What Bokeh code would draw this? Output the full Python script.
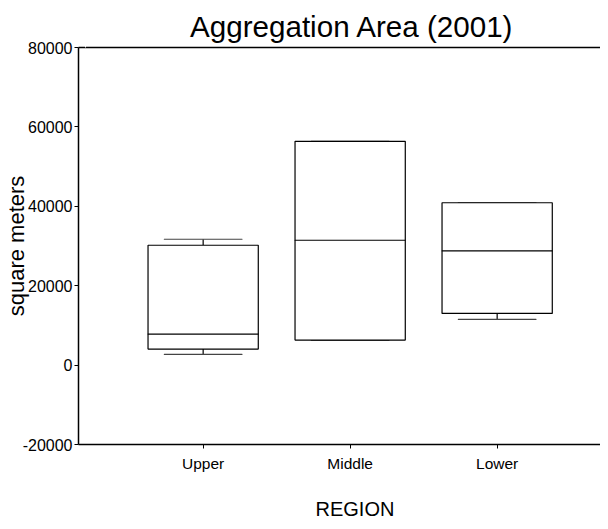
from bokeh.plotting import figure
from bokeh.models import (Range1d, FixedTicker, LinearAxis, Title, ColumnDataSource,
                          NumeralTickFormatter)
from bokeh.embed import file_html
from bokeh.resources import INLINE

# ---- data ----
regions = ["Upper", "Middle", "Lower"]
whisker_low = [2680, 6310, 11510]
q1 = [4040, 6310, 13020]
median = [7820, 31450, 28770]
q3 = [30190, 56360, 40890]
whisker_high = [31700, 56360, 40890]
y_ticks = [-20000, 0, 20000, 40000, 60000, 80000]

positions = list(range(1, len(regions) + 1))
box_width = 0.75
cap_width = 0.53

FONT = "Liberation Sans"

p = figure(width=600, height=521, output_backend="svg", toolbar_location=None,
           x_range=Range1d(0.152, 3.703), y_range=Range1d(-20000, 80000),
           min_border_left=78, min_border_top=47, min_border_bottom=77, min_border_right=0)
p.outline_line_color = None
p.xgrid.visible = False
p.ygrid.visible = False

src = ColumnDataSource(dict(x=positions, wl=whisker_low, q1=q1, med=median, q3=q3,
                            wh=whisker_high, label=regions))

lc = "black"
lw = 1.2
# whiskers
p.segment(x0="x", y0="q3", x1="x", y1="wh", source=src, line_color=lc, line_width=lw)
p.segment(x0="x", y0="wl", x1="x", y1="q1", source=src, line_color=lc, line_width=lw)
p.rect(x="x", y="wh", width=cap_width, height=0.01, source=src, line_color="#444444",
       line_width=lw, fill_color=None)
p.rect(x="x", y="wl", width=cap_width, height=0.01, source=src, line_color="#444444",
       line_width=lw, fill_color=None)
# boxes
p.vbar(x="x", width=box_width, bottom="q1", top="q3", source=src, fill_color="white",
       line_color=lc, line_width=lw)
# medians
p.rect(x="x", y="med", width=box_width, height=0.01, source=src, line_color=lc,
       line_width=lw, fill_color=None)

# x axis
xa = p.xaxis[0]
xa.ticker = FixedTicker(ticks=positions)
xa.major_label_overrides = {pos: lab for pos, lab in zip(positions, regions)}
xa.minor_tick_line_color = None
xa.major_tick_in = 0
xa.major_tick_out = 4
xa.major_label_standoff = 6
xa.major_label_text_font = FONT
xa.major_label_text_font_size = "15.5px"
xa.major_label_text_color = "black"
xa.axis_line_width = 1.5
xa.axis_line_color = "black"
xa.major_tick_line_color = "black"

# y axis
ya = p.yaxis[0]
ya.ticker = FixedTicker(ticks=y_ticks)
ya.formatter = NumeralTickFormatter(format="0")
ya.minor_tick_line_color = None
ya.major_tick_in = 0
ya.major_tick_out = 4
ya.major_label_standoff = 2
ya.major_label_text_font = FONT
ya.major_label_text_font_size = "16px"
ya.major_label_text_color = "black"
ya.axis_line_width = 1.5
ya.axis_line_color = "black"
ya.major_tick_line_color = "black"
ya.axis_label = "square meters"
ya.axis_label_standoff = -9
ya.axis_label_text_font = FONT
ya.axis_label_text_font_size = "22px"
ya.axis_label_text_font_style = "normal"
ya.axis_label_text_color = "black"

# top frame line (its blank outward band lifts the title a little)
top = LinearAxis(ticker=FixedTicker(ticks=[0.2]), major_label_overrides={0.2: ""},
                 major_label_text_font_size="1px", major_label_standoff=0,
                 major_tick_line_color="white", minor_tick_line_color=None,
                 major_tick_out=5, major_tick_in=0,
                 axis_line_width=1.5, axis_line_color="black")
p.add_layout(top, "above")

# blank spacer band between the tick labels and the x axis title
spacer = LinearAxis(ticker=FixedTicker(ticks=[0.2]), major_label_overrides={0.2: ""},
                    major_label_text_font_size="1px", major_label_standoff=0,
                    major_tick_line_color="white", minor_tick_line_color=None,
                    major_tick_out=21, major_tick_in=0, axis_line_color=None)
p.add_layout(spacer, "below")

# title
p.title = Title(text="Aggregation Area (2001)", align="left", offset=111.5,
                text_font=FONT, text_font_size="29.6px", text_font_style="normal",
                text_color="black", standoff=0)

# x axis title
p.add_layout(Title(text="REGION", align="left", offset=237, text_font=FONT,
                   text_font_size="20px", text_font_style="normal", text_color="black",
                   standoff=0), "below")

open("out.html", "w").write(file_html(p, INLINE))
